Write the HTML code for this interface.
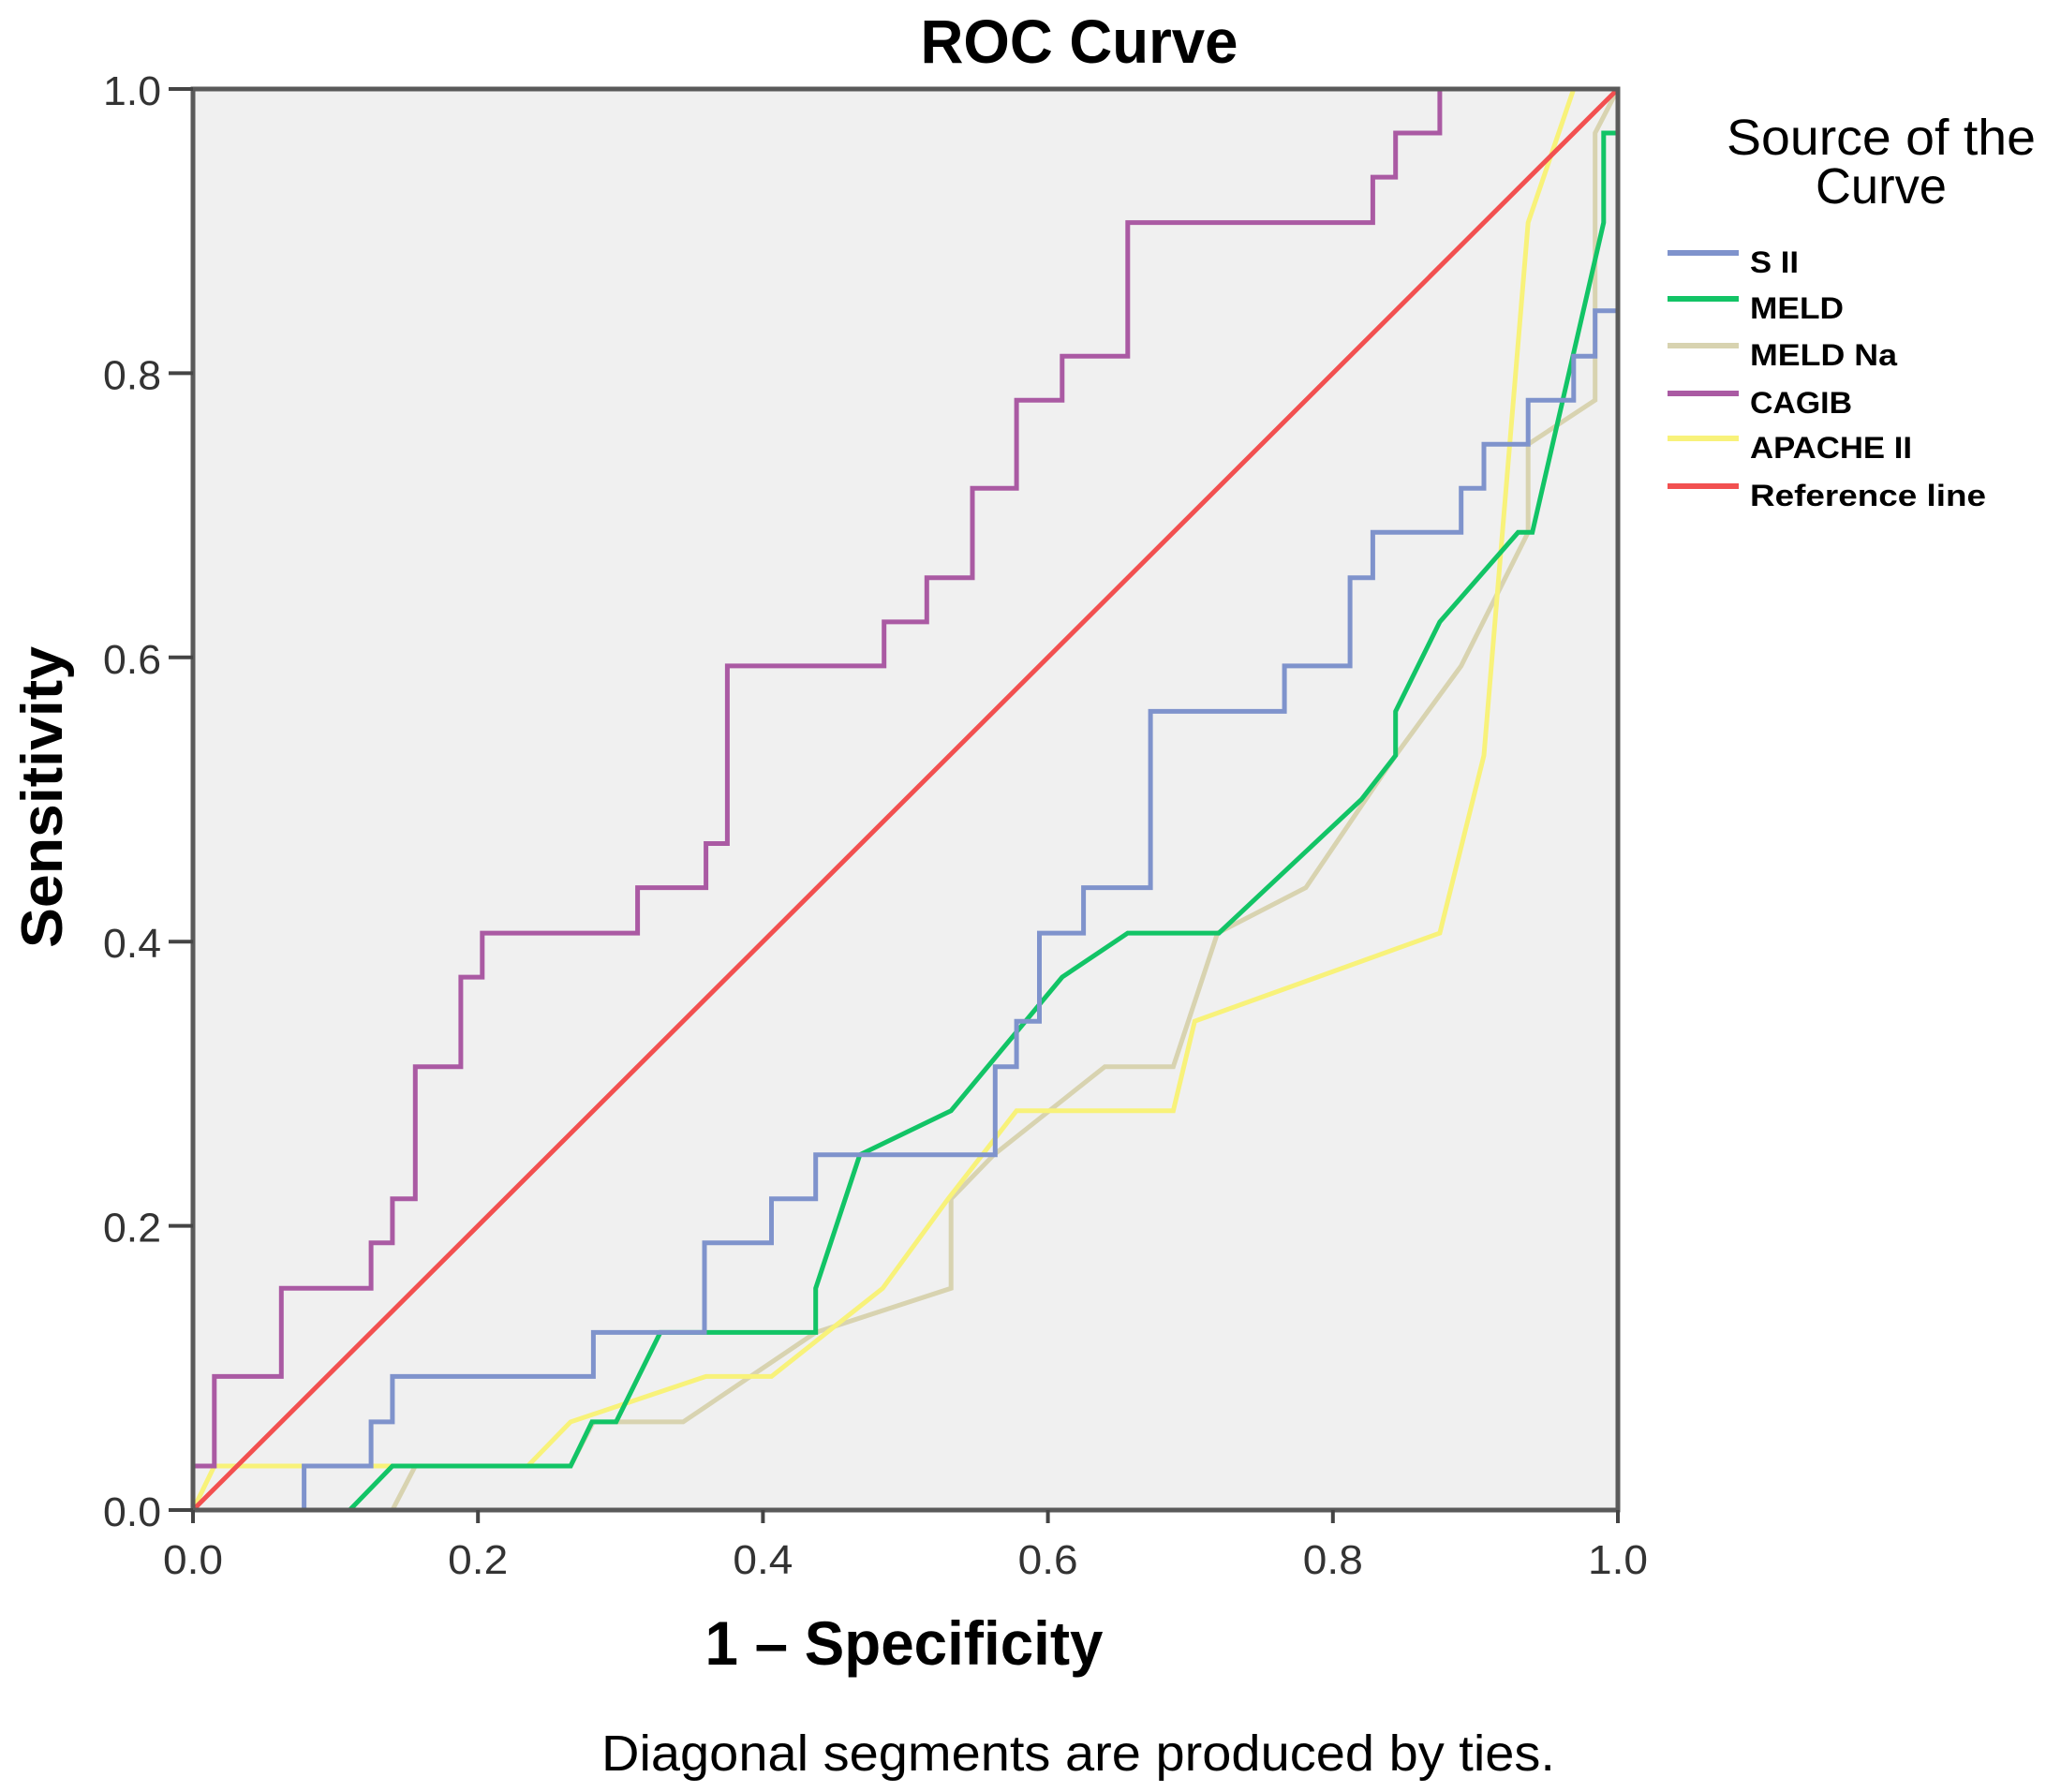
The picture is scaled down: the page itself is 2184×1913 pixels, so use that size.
<!DOCTYPE html>
<html><head><meta charset="utf-8"><style>
html,body{margin:0;padding:0;background:#fff;}
svg{display:block;}
text{font-family:"Liberation Sans",sans-serif;}
</style></head><body>
<svg id="chart" width="2184" height="1913" viewBox="0 0 2184 1913" xmlns="http://www.w3.org/2000/svg">
<text x="1152" y="67" font-size="66" font-weight="bold" text-anchor="middle" textLength="339" lengthAdjust="spacingAndGlyphs">ROC Curve</text>
<rect x="206" y="95" width="1521" height="1517" fill="#f0f0f0"/>
<g id="grid"></g>
<g id="series"></g>
<rect x="206" y="95" width="1521" height="1517" fill="none" stroke="#5a5a5a" stroke-width="5"/>
<g id="ticks"></g>
<text x="965" y="1777" font-size="66" font-weight="bold" text-anchor="middle" textLength="425" lengthAdjust="spacingAndGlyphs">1 – Specificity</text>
<text transform="translate(66,851) rotate(-90)" font-size="62" font-weight="bold" text-anchor="middle" textLength="322" lengthAdjust="spacingAndGlyphs">Sensitivity</text>
<text x="1151" y="1890" font-size="54" text-anchor="middle" textLength="1018" lengthAdjust="spacingAndGlyphs">Diagonal segments are produced by ties.</text>
<g>
<text x="2008" y="165" font-size="54" text-anchor="middle" textLength="330" lengthAdjust="spacingAndGlyphs">Source of the</text>
<text x="2008" y="217" font-size="54" text-anchor="middle" textLength="140" lengthAdjust="spacingAndGlyphs">Curve</text>
<g id="legend-items"></g>
</g>
</svg>
<script>
const tickValues = [0, 0.2, 0.4, 0.6, 0.8, 1.0];
const tickLabels = ["0.0", "0.2", "0.4", "0.6", "0.8", "1.0"];
const seriesNames = ["S II", "MELD", "MELD Na", "CAGIB", "APACHE II", "Reference line"];
const seriesColors = ["#7f93cc", "#12c466", "#d8d3b0", "#aa5aa3", "#f8f27a", "#f25050"];
const siiX = [0,0.078,0.078,0.125,0.125,0.14,0.14,0.281,0.281,0.359,0.359,0.406,0.406,0.437,0.437,0.563,0.563,0.578,0.578,0.594,0.594,0.625,0.625,0.672,0.672,0.766,0.766,0.812,0.812,0.828,0.828,0.89,0.89,0.906,0.906,0.937,0.937,0.969,0.969,0.984,0.984,1,1];
const siiY = [0,0,0.031,0.031,0.062,0.062,0.094,0.094,0.125,0.125,0.188,0.188,0.219,0.219,0.25,0.25,0.312,0.312,0.344,0.344,0.406,0.406,0.438,0.438,0.562,0.562,0.594,0.594,0.656,0.656,0.688,0.688,0.719,0.719,0.75,0.75,0.781,0.781,0.812,0.812,0.844,0.844,1];
const meldX = [0,0.11,0.14,0.265,0.28,0.297,0.328,0.437,0.437,0.468,0.532,0.61,0.656,0.72,0.82,0.844,0.844,0.875,0.93,0.94,0.99,0.99,1,1];
const meldY = [0,0,0.031,0.031,0.062,0.062,0.125,0.125,0.156,0.25,0.281,0.375,0.406,0.406,0.5,0.531,0.562,0.625,0.688,0.688,0.906,0.969,0.969,1];
const meldNaX = [0,0.14,0.156,0.265,0.281,0.344,0.437,0.532,0.532,0.562,0.64,0.688,0.719,0.781,0.844,0.89,0.937,0.937,0.984,0.984,1];
const meldNaY = [0,0,0.031,0.031,0.062,0.062,0.125,0.156,0.219,0.25,0.312,0.312,0.406,0.438,0.531,0.594,0.688,0.75,0.781,0.969,1];
const cagibX = [0,0,0.015,0.015,0.062,0.062,0.125,0.125,0.14,0.14,0.156,0.156,0.188,0.188,0.203,0.203,0.312,0.312,0.36,0.36,0.375,0.375,0.485,0.485,0.515,0.515,0.547,0.547,0.578,0.578,0.61,0.61,0.656,0.656,0.828,0.828,0.844,0.844,0.875,0.875,1];
const cagibY = [0,0.031,0.031,0.094,0.094,0.156,0.156,0.188,0.188,0.219,0.219,0.312,0.312,0.375,0.375,0.406,0.406,0.438,0.438,0.469,0.469,0.594,0.594,0.625,0.625,0.656,0.656,0.719,0.719,0.781,0.781,0.812,0.812,0.906,0.906,0.938,0.938,0.969,0.969,1,1];
const apacheX = [0,0.015,0.235,0.265,0.36,0.406,0.484,0.53,0.578,0.688,0.703,0.875,0.906,0.937,0.969,1];
const apacheY = [0,0.031,0.031,0.062,0.094,0.094,0.156,0.219,0.281,0.281,0.344,0.406,0.531,0.906,1,1];
const refX = [0,1];
const refY = [0,1];

const X0=206, X1=1727, Y0=1612, Y1=95;
const xs = v => X0 + v*(X1-X0);
const ys = v => Y0 - v*(Y0-Y1);
const NS="http://www.w3.org/2000/svg";
const svg=document.getElementById('chart');

const ticks=document.getElementById('ticks');
tickValues.forEach((v,i)=>{
  const tx=document.createElementNS(NS,'line');
  tx.setAttribute('x1',xs(v));tx.setAttribute('x2',xs(v));tx.setAttribute('y1',Y0);tx.setAttribute('y2',Y0+14);
  tx.setAttribute('stroke','#444');tx.setAttribute('stroke-width','4');
  
  
  ticks.appendChild(tx);
  const lx=document.createElementNS(NS,'text');
  lx.setAttribute('x',xs(v));lx.setAttribute('y',Y0+68);lx.setAttribute('font-size','44');
  lx.setAttribute('text-anchor','middle');lx.setAttribute('fill','#333');
  lx.setAttribute('textLength','64');lx.setAttribute('lengthAdjust','spacingAndGlyphs');
  lx.textContent=tickLabels[i];
  
  
  ticks.appendChild(lx);
  const ty=document.createElementNS(NS,'line');
  ty.setAttribute('x1',X0-26);ty.setAttribute('x2',X0);ty.setAttribute('y1',ys(v));ty.setAttribute('y2',ys(v));
  ty.setAttribute('stroke','#444');ty.setAttribute('stroke-width','4');
  
  
  ticks.appendChild(ty);
  const ly=document.createElementNS(NS,'text');
  ly.setAttribute('x',172);ly.setAttribute('y',ys(v)+17);ly.setAttribute('font-size','44');
  ly.setAttribute('text-anchor','end');ly.setAttribute('fill','#333');
  ly.setAttribute('textLength','62');ly.setAttribute('lengthAdjust','spacingAndGlyphs');
  ly.textContent=tickLabels[i];
  
  
  ticks.appendChild(ly);
});

const seriesData=[[siiX,siiY],[meldX,meldY],[meldNaX,meldNaY],[cagibX,cagibY],[apacheX,apacheY],[refX,refY]];
const seriesKeys=["sii","meld","meld-na","cagib","apache-ii","reference"];
const order=[2,4,1,0,3,5];
const g=document.getElementById('series');
order.forEach(i=>{
  const [xa,ya]=seriesData[i];
  const p=document.createElementNS(NS,'polyline');
  p.setAttribute('points',xa.map((x,k)=>xs(x).toFixed(1)+','+ys(ya[k]).toFixed(1)).join(' '));
  p.setAttribute('fill','none');p.setAttribute('stroke',seriesColors[i]);p.setAttribute('stroke-width','5');
  p.setAttribute('stroke-linejoin','miter');
  
  
  g.appendChild(p);
});

const lg=document.getElementById('legend-items');
const lineY=[270,319,369,420,468,519];
const textW=[52,100,157,109,173,252];
seriesNames.forEach((n,i)=>{
  const l=document.createElementNS(NS,'line');
  l.setAttribute('x1',1780);l.setAttribute('x2',1856);l.setAttribute('y1',lineY[i]);l.setAttribute('y2',lineY[i]);
  l.setAttribute('stroke',seriesColors[i]);l.setAttribute('stroke-width','6');
  
  
  lg.appendChild(l);
  const t=document.createElementNS(NS,'text');
  t.setAttribute('x',1868);t.setAttribute('y',lineY[i]+21);t.setAttribute('font-size','32');t.setAttribute('font-weight','bold');
  t.setAttribute('textLength',textW[i]);t.setAttribute('lengthAdjust','spacingAndGlyphs');
  t.textContent=n;
  
  
  lg.appendChild(t);
});
</script>
</body></html>
